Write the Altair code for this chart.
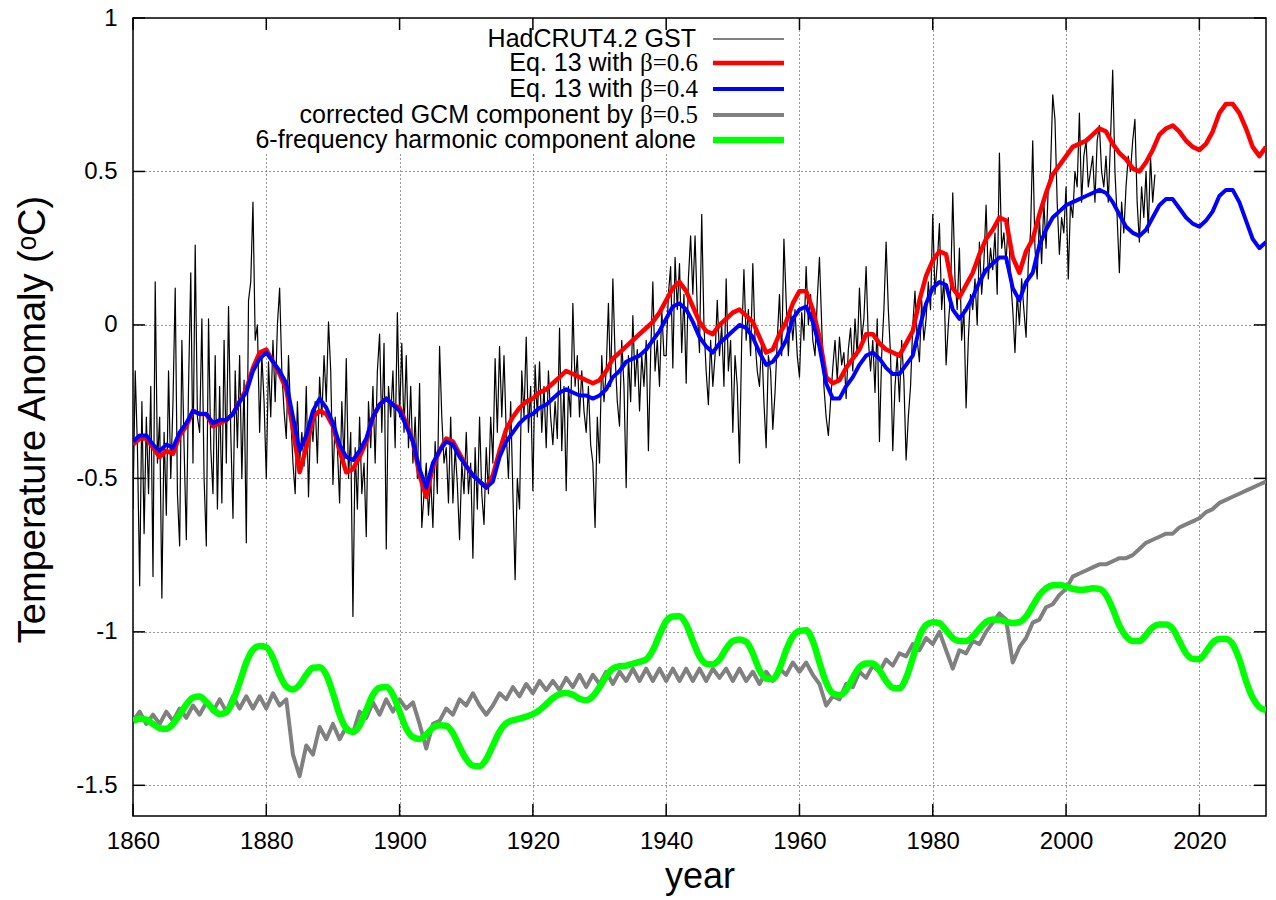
import altair as alt
import pandas as pd

# ---------------- data ----------------
x_tick_years = [1860, 1880, 1900, 1920, 1940, 1960, 1980, 2000, 2020]
y_tick_values = [-1.5, -1.0, -0.5, 0.0, 0.5, 1.0]

# HadCRUT4.2 GST, three samples per year starting 1860
hadcrut = [
    -0.60, -0.15, -0.40, -0.85, -0.25, -0.68, -0.30, -0.55, -0.20, -0.82, 0.14, -0.45, -0.30, -0.89, -0.35,
    -0.62, -0.15, -0.50, -0.25, 0.12, -0.55, -0.72, -0.05, -0.40, -0.70, -0.20, 0.17, -0.45, 0.26, -0.30,
    -0.35, 0.02, -0.50, -0.72, 0.02, -0.40, -0.55, -0.10, -0.60, -0.20, -0.58, -0.05, -0.45, 0.06, -0.35,
    -0.63, -0.15, -0.40, -0.10, -0.50, -0.18, -0.71, 0.08, 0.14, 0.40, -0.05, 0.00, -0.35, -0.10, -0.25,
    -0.50, -0.12, -0.30, -0.05, -0.25, 0.00, 0.12, -0.15, -0.28, -0.37, -0.10, -0.30, -0.45, -0.55, -0.25,
    -0.45, -0.35, -0.46, -0.20, -0.56, -0.30, -0.38, -0.25, -0.45, -0.17, -0.30, -0.10, -0.25, 0.01, -0.15,
    -0.52, -0.30, -0.40, -0.58, -0.25, -0.45, -0.11, -0.50, -0.35, -0.95, -0.40, -0.60, -0.30, -0.55, -0.45,
    -0.69, -0.25, -0.40, -0.20, -0.45, -0.15, -0.03, -0.35, -0.06, -0.73, -0.20, -0.30, -0.15, -0.40, 0.04,
    -0.30, -0.06, -0.35, -0.10, -0.40, -0.20, -0.45, -0.30, -0.50, -0.19, -0.66, -0.55, -0.45, -0.62, -0.50,
    -0.66, -0.38, -0.55, -0.07, -0.30, -0.45, -0.40, -0.58, -0.30, -0.58, -0.40, -0.52, -0.70, -0.45, -0.55,
    -0.35, -0.55, -0.45, -0.76, -0.40, -0.60, -0.30, -0.55, -0.65, -0.40, -0.55, -0.30, -0.45, -0.11, -0.35,
    -0.07, -0.30, -0.10, -0.35, -0.50, -0.25, -0.55, -0.83, -0.50, -0.60, -0.15, -0.30, -0.04, -0.35, -0.20,
    -0.54, -0.13, -0.30, -0.12, -0.35, -0.20, -0.40, -0.15, -0.30, -0.39, -0.25, -0.37, -0.01, -0.41, -0.20,
    -0.54, -0.20, -0.30, 0.07, -0.20, -0.10, -0.30, -0.15, -0.28, -0.35, -0.20, -0.39, -0.45, -0.66, -0.30,
    -0.45, -0.10, -0.25, -0.15, 0.07, -0.20, 0.15, -0.10, -0.25, -0.33, -0.05, -0.20, -0.53, -0.10, -0.25,
    0.03, -0.20, -0.08, -0.28, -0.10, -0.20, -0.05, -0.41, -0.10, 0.14, -0.15, -0.05, -0.20, 0.05, -0.10,
    -0.10, 0.10, 0.19, -0.14, 0.22, 0.05, 0.20, -0.09, 0.10, -0.19, 0.15, 0.29, 0.10, 0.29, 0.05,
    -0.09, 0.36, 0.00, -0.15, -0.26, -0.05, -0.20, -0.10, 0.08, -0.10, 0.00, -0.20, 0.15, -0.15, -0.05,
    -0.35, -0.10, -0.20, -0.45, -0.05, 0.18, -0.05, 0.05, -0.10, 0.20, -0.05, -0.15, -0.20, -0.05, -0.25,
    -0.40, -0.10, -0.15, -0.34, -0.22, -0.05, 0.10, -0.10, 0.28, 0.08, -0.10, 0.05, -0.05, 0.05, -0.10,
    -0.17, 0.04, -0.05, 0.19, 0.00, 0.10, -0.05, -0.10, 0.08, 0.22, 0.00, -0.20, -0.30, -0.36, -0.25,
    -0.14, -0.05, -0.18, -0.04, -0.13, -0.09, -0.24, -0.08, -0.01, -0.15, 0.02, -0.10, 0.12, -0.05, 0.02,
    0.19, -0.05, -0.15, -0.05, -0.22, 0.02, -0.38, -0.10, 0.05, 0.27, 0.05, -0.10, -0.41, -0.20, -0.10,
    -0.25, -0.05, -0.18, -0.44, -0.30, -0.20, 0.00, 0.11, -0.05, -0.12, 0.08, -0.05, 0.02, 0.14, 0.05,
    0.36, 0.10, 0.20, 0.33, 0.05, 0.15, -0.13, 0.00, 0.10, 0.43, 0.15, 0.05, 0.25, -0.05, 0.05,
    -0.27, -0.05, 0.10, 0.05, 0.15, 0.00, 0.27, 0.10, 0.20, 0.39, 0.15, 0.25, 0.18, 0.30, 0.10,
    0.56, 0.25, 0.30, 0.20, 0.35, 0.15, 0.05, -0.09, 0.10, 0.00, 0.15, 0.05, -0.04, 0.20, 0.30,
    0.60, 0.25, 0.15, 0.35, 0.20, 0.40, 0.25, 0.45, 0.50, 0.75, 0.67, 0.40, 0.23, 0.35, 0.30,
    0.45, 0.15, 0.40, 0.35, 0.50, 0.45, 0.69, 0.40, 0.55, 0.60, 0.45, 0.50, 0.55, 0.40, 0.60,
    0.65, 0.50, 0.45, 0.55, 0.40, 0.60, 0.83, 0.50, 0.35, 0.17, 0.40, 0.30, 0.45, 0.55, 0.50,
    0.60, 0.67, 0.40, 0.27, 0.45, 0.35, 0.50, 0.30, 0.55, 0.40, 0.49,
]

# yearly series 1860 .. 2030
eq13_beta06 = [
    -0.39, -0.37, -0.37, -0.40, -0.43, -0.41, -0.42, -0.36, -0.33, -0.28,
    -0.29, -0.29, -0.33, -0.32, -0.31, -0.29, -0.25, -0.21, -0.14, -0.09,
    -0.08, -0.12, -0.16, -0.21, -0.34, -0.48, -0.40, -0.30, -0.28, -0.29,
    -0.33, -0.41, -0.48, -0.47, -0.43, -0.38, -0.30, -0.26, -0.24, -0.26,
    -0.27, -0.32, -0.38, -0.49, -0.56, -0.46, -0.41, -0.37, -0.38, -0.42,
    -0.46, -0.49, -0.51, -0.53, -0.49, -0.41, -0.34, -0.30, -0.27, -0.25,
    -0.24, -0.22, -0.21, -0.19, -0.17, -0.15, -0.16, -0.17, -0.18, -0.19,
    -0.18, -0.15, -0.11, -0.09, -0.07, -0.05, -0.03, -0.01, 0.01, 0.04,
    0.08, 0.12, 0.14, 0.11, 0.06, 0.01, -0.02, -0.03, 0.00, 0.02,
    0.04, 0.05, 0.03, 0.01, -0.04, -0.09, -0.08, -0.03, 0.01, 0.07,
    0.11, 0.11, 0.05, -0.04, -0.17, -0.19, -0.18, -0.14, -0.11, -0.08,
    -0.03, -0.03, -0.06, -0.08, -0.09, -0.10, -0.06, -0.02, 0.08, 0.16,
    0.21, 0.24, 0.23, 0.12, 0.09, 0.13, 0.17, 0.23, 0.28, 0.31,
    0.35, 0.34, 0.22, 0.17, 0.24, 0.28, 0.36, 0.43, 0.49, 0.52,
    0.55, 0.58, 0.59, 0.60, 0.62, 0.64, 0.63, 0.59, 0.56, 0.54,
    0.51, 0.50, 0.53, 0.57, 0.62, 0.64, 0.65, 0.63, 0.60, 0.58,
    0.57, 0.59, 0.63, 0.69, 0.72, 0.72, 0.69, 0.64, 0.58, 0.55,
    0.58,
]

eq13_beta04 = [
    -0.38, -0.36, -0.36, -0.39, -0.41, -0.39, -0.40, -0.35, -0.32, -0.28,
    -0.29, -0.29, -0.32, -0.31, -0.31, -0.29, -0.25, -0.22, -0.15, -0.11,
    -0.09, -0.12, -0.15, -0.19, -0.30, -0.41, -0.36, -0.28, -0.24, -0.27,
    -0.32, -0.39, -0.43, -0.44, -0.41, -0.37, -0.30, -0.26, -0.24, -0.26,
    -0.28, -0.33, -0.38, -0.47, -0.53, -0.45, -0.41, -0.38, -0.39, -0.43,
    -0.46, -0.49, -0.51, -0.53, -0.51, -0.43, -0.38, -0.35, -0.32, -0.30,
    -0.29, -0.27, -0.26, -0.24, -0.22, -0.21, -0.22, -0.23, -0.23, -0.24,
    -0.23, -0.21, -0.17, -0.15, -0.12, -0.11, -0.10, -0.08, -0.05, -0.02,
    0.02, 0.06, 0.07, 0.05, 0.01, -0.04, -0.07, -0.09, -0.06, -0.04,
    -0.02, 0.00, -0.01, -0.04, -0.09, -0.13, -0.12, -0.09, -0.05, 0.02,
    0.05, 0.06, 0.01, -0.07, -0.19, -0.24, -0.24, -0.20, -0.17, -0.13,
    -0.10, -0.09, -0.11, -0.14, -0.16, -0.16, -0.13, -0.10, -0.01, 0.07,
    0.12, 0.14, 0.13, 0.05, 0.02, 0.05, 0.09, 0.14, 0.18, 0.20,
    0.22, 0.22, 0.12, 0.08, 0.14, 0.17, 0.26, 0.31, 0.35, 0.37,
    0.39, 0.40, 0.41, 0.42, 0.43, 0.44, 0.43, 0.40, 0.36, 0.32,
    0.30, 0.29, 0.31, 0.35, 0.39, 0.41, 0.41, 0.38, 0.35, 0.33,
    0.32, 0.34, 0.37, 0.42, 0.44, 0.44, 0.40, 0.34, 0.28, 0.25,
    0.27,
]

gcm_beta05 = [
    -1.29, -1.26, -1.30, -1.27, -1.30, -1.26, -1.29, -1.25, -1.28, -1.24,
    -1.27, -1.23, -1.26, -1.22, -1.26, -1.21, -1.25, -1.21, -1.25, -1.21,
    -1.25, -1.20, -1.24, -1.22, -1.40, -1.47, -1.37, -1.40, -1.31, -1.35,
    -1.30, -1.35, -1.31, -1.33, -1.26, -1.28, -1.23, -1.27, -1.22, -1.26,
    -1.22, -1.25, -1.23, -1.30, -1.38, -1.30, -1.29, -1.25, -1.27, -1.22,
    -1.24, -1.20, -1.24, -1.27, -1.24, -1.20, -1.22, -1.18, -1.21, -1.17,
    -1.20, -1.16, -1.19, -1.16, -1.19, -1.15, -1.18, -1.14, -1.18, -1.14,
    -1.17, -1.13, -1.17, -1.13, -1.16, -1.12, -1.16, -1.12, -1.16, -1.12,
    -1.16, -1.12, -1.16, -1.12, -1.16, -1.12, -1.16, -1.12, -1.15, -1.12,
    -1.16, -1.12, -1.16, -1.13, -1.17, -1.13, -1.16, -1.12, -1.14, -1.10,
    -1.13, -1.10, -1.14, -1.17, -1.24, -1.21, -1.22, -1.17, -1.18, -1.13,
    -1.15, -1.11, -1.13, -1.09, -1.11, -1.07, -1.08, -1.04, -1.06, -1.02,
    -1.04, -1.00, -1.06, -1.12, -1.06, -1.07, -1.03, -1.04, -1.00, -0.97,
    -0.94, -0.96, -1.10, -1.05, -1.02, -0.97, -0.96, -0.92, -0.91, -0.88,
    -0.86, -0.82, -0.81, -0.80, -0.79, -0.78, -0.78, -0.77, -0.76, -0.76,
    -0.75, -0.73, -0.71, -0.70, -0.69, -0.68, -0.68, -0.66, -0.65, -0.64,
    -0.63, -0.61, -0.60, -0.58, -0.57, -0.56, -0.55, -0.54, -0.53, -0.52,
    -0.51,
]

harmonic6 = [
    -1.290, -1.283, -1.286, -1.300, -1.314, -1.316, -1.300, -1.270, -1.237, -1.214,
    -1.211, -1.228, -1.252, -1.268, -1.262, -1.225, -1.165, -1.100, -1.058, -1.046,
    -1.050, -1.085, -1.140, -1.178, -1.188, -1.172, -1.140, -1.117, -1.115, -1.140,
    -1.200, -1.270, -1.315, -1.326, -1.305, -1.255, -1.205, -1.182, -1.180, -1.205,
    -1.260, -1.315, -1.343, -1.349, -1.335, -1.312, -1.304, -1.306, -1.330, -1.375,
    -1.415, -1.436, -1.438, -1.415, -1.370, -1.325, -1.298, -1.288, -1.283, -1.276,
    -1.268, -1.255, -1.236, -1.216, -1.203, -1.199, -1.205, -1.218, -1.223, -1.210,
    -1.180, -1.145, -1.120, -1.112, -1.110, -1.104, -1.098, -1.090, -1.060, -1.010,
    -0.965, -0.950, -0.949, -0.975, -1.030, -1.080, -1.104, -1.106, -1.090, -1.055,
    -1.030, -1.025, -1.032, -1.070, -1.125, -1.152, -1.154, -1.120, -1.060, -1.015,
    -0.997, -0.995, -1.030, -1.100, -1.165, -1.200, -1.206, -1.190, -1.150, -1.115,
    -1.103, -1.103, -1.125, -1.160, -1.182, -1.184, -1.150, -1.085, -1.015, -0.978,
    -0.969, -0.972, -0.995, -1.020, -1.030, -1.030, -1.015, -0.990, -0.968, -0.960,
    -0.961, -0.967, -0.971, -0.968, -0.950, -0.915, -0.880, -0.858, -0.848, -0.847,
    -0.852, -0.860, -0.863, -0.862, -0.858, -0.860, -0.880, -0.925, -0.980, -1.015,
    -1.030, -1.030, -1.010, -0.985, -0.976, -0.976, -0.990, -1.030, -1.070, -1.088,
    -1.089, -1.065, -1.035, -1.023, -1.023, -1.040, -1.090, -1.160, -1.215, -1.245,
    -1.255,
]

legend_entries = [
    ("HadCRUT4.2 GST", ""),
    ("Eq. 13 with", "\u03b2=0.6"),
    ("Eq. 13 with", "\u03b2=0.4"),
    ("corrected GCM component by", "\u03b2=0.5"),
    ("6-frequency harmonic component alone", ""),
]

# ---------------- tables ----------------
had_df = pd.DataFrame({"year": [1860 + i / 3 for i in range(len(hadcrut))], "t": hadcrut})
years = list(range(1860, 1860 + len(eq13_beta06)))
red_df = pd.DataFrame({"year": years, "t": eq13_beta06})
blue_df = pd.DataFrame({"year": years, "t": eq13_beta04})
gray_df = pd.DataFrame({"year": years, "t": gcm_beta05})
green_df = pd.DataFrame({"year": years, "t": harmonic6})
xt_df = pd.DataFrame({"year": x_tick_years})
yt_df = pd.DataFrame({"t": y_tick_values})
one = pd.DataFrame({"k": [0]})

# ---------------- styling ----------------
W, H = 1133, 798
FONT = "Liberation Sans"
xs = alt.Scale(domain=[1860, 2030], nice=False, zero=False)
ys = alt.Scale(domain=[-1.6, 1.0], nice=False, zero=False)

x_axis = alt.Axis(
    values=x_tick_years, labelExpr="datum.value + ''", title="year",
    ticks=False, domain=False, grid=True, gridDash=[1, 3], gridColor="#333333",
    gridWidth=1, labelFontSize=24, labelPadding=13, labelFlush=False,
    labelOverlap=False, titleFontSize=36, titleFontWeight="normal",
    titleBaseline="alphabetic", titleY=71, titleX=W / 2,
)
y_axis = alt.Axis(
    values=y_tick_values, labelExpr="datum.value + ''",
    title="Temperature Anomaly (\u1d52C)",
    ticks=False, domain=False, grid=True, gridDash=[1, 3], gridColor="#333333",
    gridWidth=1, labelFontSize=24, labelPadding=16, labelOverlap=False,
    titleFontSize=38, titleFontWeight="normal", titleAngle=270,
    titleBaseline="alphabetic", titleAlign="center", titleX=-89, titleY=H / 2 + 2,
)

X = alt.X("year:Q", scale=xs, axis=x_axis)
Y = alt.Y("t:Q", scale=ys, axis=y_axis)


def series(df, color, width, interp="linear"):
    return alt.Chart(df).mark_line(
        color=color, strokeWidth=width, interpolate=interp, strokeJoin="round", clip=True
    ).encode(x=X, y=Y)


black = series(had_df, "#000000", 1.2)
red = series(red_df, "#ff0000", 4.5)
blue = series(blue_df, "#0000ff", 4)
gray = series(gray_df, "#808080", 4)
green = series(green_df, "#00ff00", 6.5, interp="monotone")

# opaque key box (hides the grid behind the legend)
key_box = alt.Chart(one).mark_rect(color="white").encode(
    x=alt.value(2), x2=alt.value(660), y=alt.value(1), y2=alt.value(136)
)

row_y = [21, 45, 71, 97, 122]
styles = [("#000000", 1), ("#ff0000", 4.5), ("#0000ff", 4), ("#808080", 4), ("#00ff00", 6.5)]
legend_layers = []
for (sans, serif), yy, (col, wd) in zip(legend_entries, row_y, styles):
    right = 500 if serif else 563
    legend_layers.append(
        alt.Chart(one).mark_text(
            text=sans, align="right", baseline="middle", font=FONT, fontSize=25, color="black"
        ).encode(x=alt.value(right), y=alt.value(yy))
    )
    if serif:
        legend_layers.append(
            alt.Chart(one).mark_text(
                text=serif, align="left", baseline="middle", font="Liberation Serif",
                fontSize=25, color="black"
            ).encode(x=alt.value(507), y=alt.value(yy))
        )
    legend_layers.append(
        alt.Chart(one).mark_rule(color=col, strokeWidth=wd).encode(
            x=alt.value(580), x2=alt.value(651), y=alt.value(yy)
        )
    )

# inward ticks on all four sides
tick_style = dict(color="black", strokeWidth=1.5)
ticks_bottom = alt.Chart(xt_df).mark_rule(**tick_style).encode(
    x=X, y=alt.value(H), y2=alt.value(H - 12))
ticks_top = alt.Chart(xt_df).mark_rule(**tick_style).encode(
    x=X, y=alt.value(0), y2=alt.value(12))
ticks_left = alt.Chart(yt_df).mark_rule(**tick_style).encode(
    y=Y, x=alt.value(0), x2=alt.value(12))
ticks_right = alt.Chart(yt_df).mark_rule(**tick_style).encode(
    y=Y, x=alt.value(W), x2=alt.value(W - 12))

chart = alt.layer(
    black, red, blue, gray, green, key_box, *legend_layers,
    ticks_bottom, ticks_top, ticks_left, ticks_right,
).properties(
    width=W, height=H,
    autosize=alt.AutoSizeParams(type="none"),
    padding={"left": 125, "top": 10, "right": 2, "bottom": 82},
).configure_view(
    stroke="black", strokeWidth=1.5
).configure_axis(
    labelFont=FONT, titleFont=FONT, labelColor="black", titleColor="black"
)

chart.save("out.html", embed_options={"renderer": "svg", "actions": False})
